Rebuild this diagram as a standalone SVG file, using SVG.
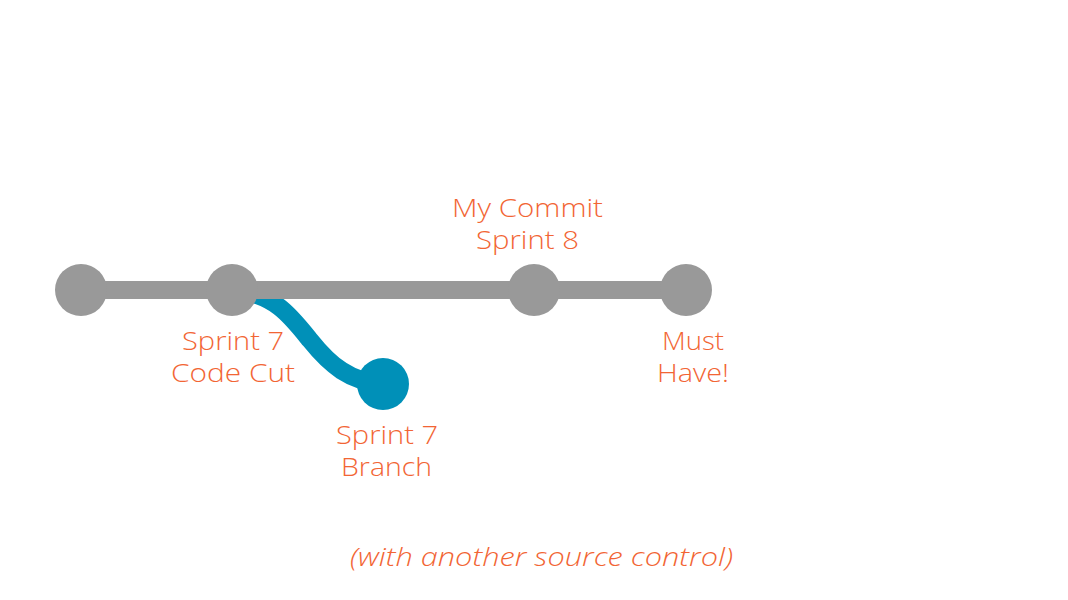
<svg xmlns="http://www.w3.org/2000/svg" width="1068" height="600" viewBox="0 0 1068 600">
<style>
.lbl{font-family:"Open Sans","Lato","Liberation Sans",sans-serif;font-weight:300;font-size:26px;fill:#F26534;text-anchor:middle}
.gn{fill:#999999}
.bn{fill:#0090B8}
</style>
<rect width="1068" height="600" fill="#ffffff"/>
<g id="connectors">
<path d="M 235 290 C 275 295, 290 315, 310 340 C 330 365, 350 382, 383 384" fill="none" stroke="#0090B8" stroke-width="18"/>
<line x1="81" y1="290" x2="686" y2="290" stroke="#999999" stroke-width="18"/>
</g>
<g id="n1"><circle class="gn" cx="81" cy="290" r="26"/></g>
<g id="n2"><circle class="gn" cx="232" cy="290" r="26"/>
<text class="lbl" x="233" y="350" textLength="102" lengthAdjust="spacingAndGlyphs">Sprint 7</text><text class="lbl" x="233" y="382" textLength="124" lengthAdjust="spacingAndGlyphs">Code Cut</text></g>
<g id="n3"><circle class="gn" cx="534" cy="290" r="26"/>
<text class="lbl" x="527.5" y="217" textLength="151" lengthAdjust="spacingAndGlyphs">My Commit</text><text class="lbl" x="527.5" y="249" textLength="103" lengthAdjust="spacingAndGlyphs">Sprint 8</text></g>
<g id="n4"><circle class="gn" cx="686" cy="290" r="26"/>
<text class="lbl" x="693" y="350" textLength="62" lengthAdjust="spacingAndGlyphs">Must</text><text class="lbl" x="693" y="382" textLength="72" lengthAdjust="spacingAndGlyphs">Have!</text></g>
<g id="n5"><circle class="bn" cx="383" cy="384" r="26"/>
<text class="lbl" x="387" y="444" textLength="102" lengthAdjust="spacingAndGlyphs">Sprint 7</text><text class="lbl" x="386.5" y="476" textLength="91" lengthAdjust="spacingAndGlyphs">Branch</text></g>
<text class="lbl" x="541.5" y="566" font-style="italic" textLength="383" lengthAdjust="spacingAndGlyphs">(with another source control)</text>
</svg>
